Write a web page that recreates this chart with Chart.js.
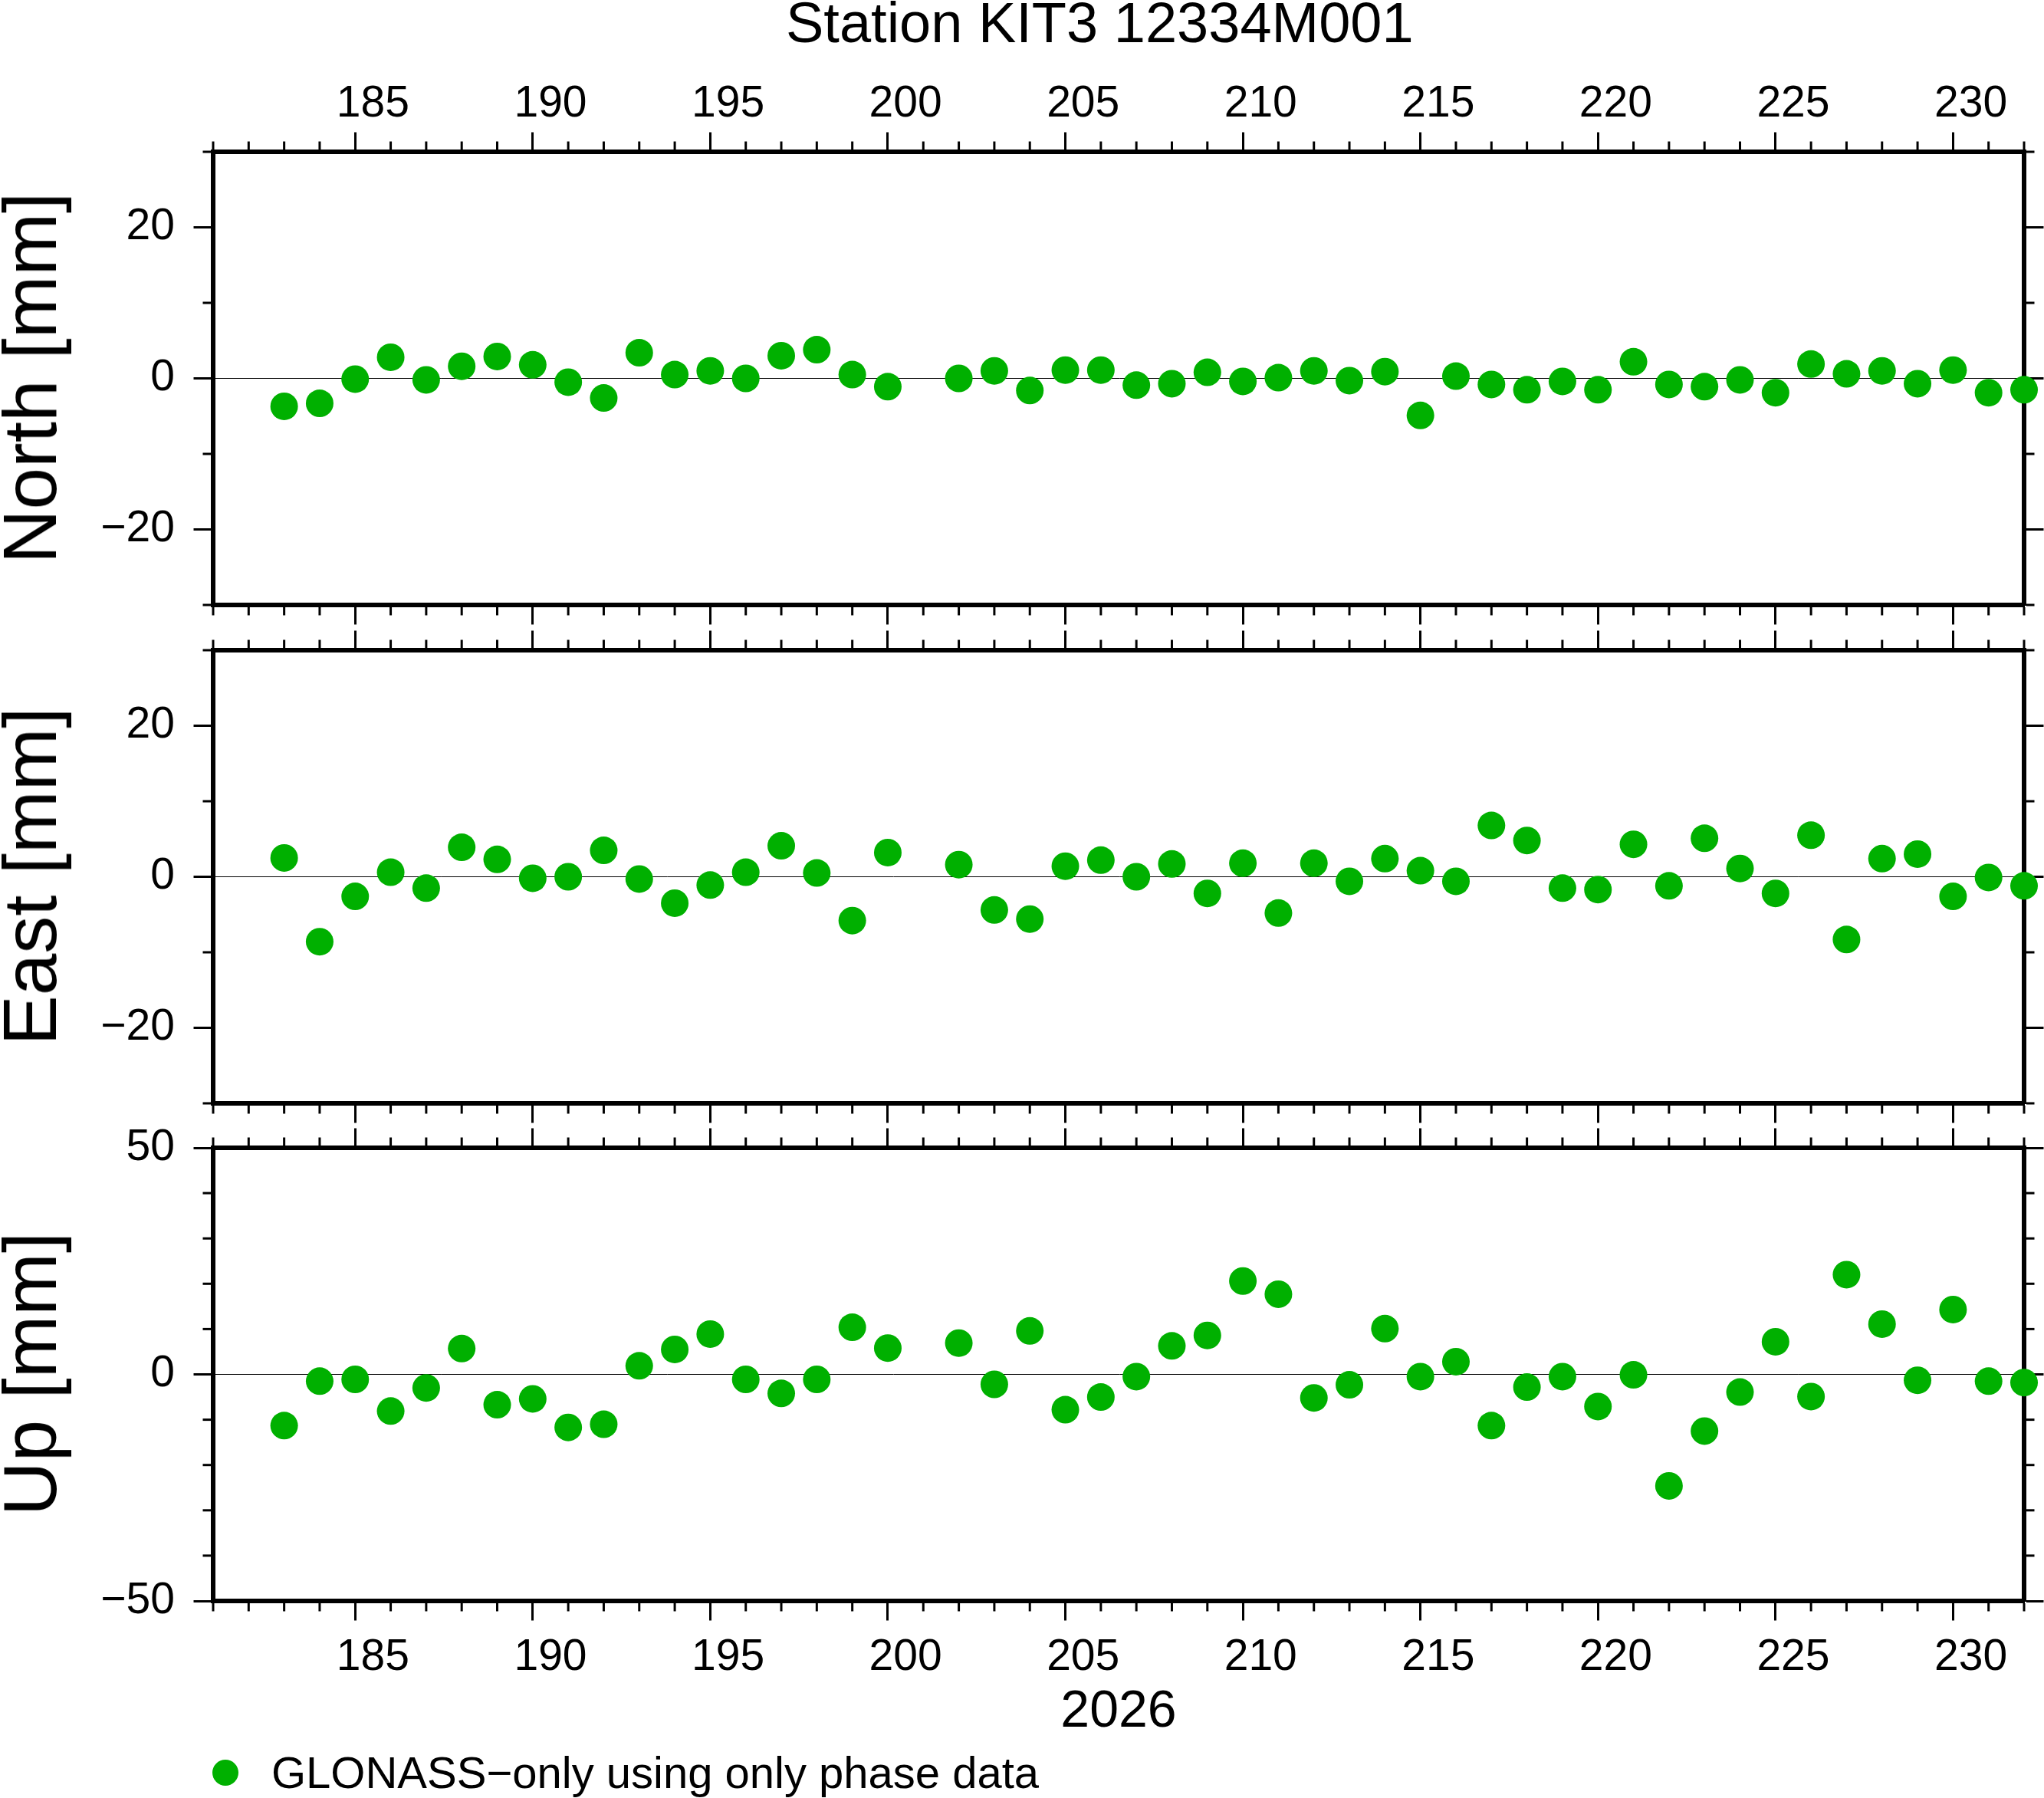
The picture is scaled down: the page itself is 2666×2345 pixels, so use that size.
<!DOCTYPE html>
<html>
<head>
<meta charset="utf-8">
<script src="https://cdn.jsdelivr.net/npm/chart.js@4.4.1/dist/chart.umd.min.js"></script>
<style>
  html, body { margin: 0; padding: 0; background: #fff; }
  #page { position: relative; width: 2666px; height: 2345px; overflow: hidden; font-family: "Liberation Sans", Helvetica, Arial, sans-serif; color: #000; }
  canvas { position: absolute; left: 0; }
  .txt { position: absolute; white-space: nowrap; }
  .ylab { position: absolute; white-space: nowrap; font-size: 98px; line-height: 98px; left: -10px; transform-origin: 0 0; transform: rotate(-90deg) translateX(-50%); }
</style>
</head>
<body>
<div id="page">
  <div class="txt" style="left:1025px; top:-7px; font-size:74px; line-height:74px;">Station KIT3 12334M001</div>

  <canvas id="north" width="2666" height="818" style="top:0px; width:2666px; height:818px;"></canvas>
  <canvas id="east" width="2666" height="650" style="top:818px; width:2666px; height:650px;"></canvas>
  <canvas id="up" width="2666" height="742" style="top:1468px; width:2666px; height:742px;"></canvas>

  <div class="ylab" style="top:493px;">North [mm]</div>
  <div class="ylab" style="top:1143px;">East [mm]</div>
  <div class="ylab" style="top:1792px;">Up [mm]</div>

  <div class="txt" style="left:1459px; top:2194px; font-size:68px; line-height:68px; transform:translateX(-50%);">2026</div>

  <div class="txt" style="left:277px; top:2295px; width:34px; height:34px; border-radius:50%; background:#00b000;"></div>
  <div class="txt" style="left:354px; top:2283px; font-size:58px; line-height:58px;">GLONASS−only using only phase data</div>
</div>

<script>
// day of year 2026 (day 201 has no solution)
const days = [183, 184, 185, 186, 187, 188, 189, 190, 191, 192, 193, 194, 195, 196, 197, 198, 199, 200,
              202, 203, 204, 205, 206, 207, 208, 209, 210, 211, 212, 213, 214, 215, 216, 217, 218, 219,
              220, 221, 222, 223, 224, 225, 226, 227, 228, 229, 230, 231, 232];

// residuals in mm
const north = [-3.7, -3.3, -0.1, 2.8, -0.2, 1.6, 2.9, 1.8, -0.5, -2.6, 3.4, 0.5, 1.0, 0.0, 3.0, 3.8, 0.5, -1.1,
               0.0, 1.0, -1.6, 1.1, 1.1, -0.9, -0.7, 0.8, -0.4, 0.1, 1.0, -0.3, 0.9, -4.9, 0.3, -0.8, -1.5, -0.4,
               -1.5, 2.2, -0.8, -1.1, -0.2, -1.9, 1.9, 0.6, 1.0, -0.7, 1.1, -1.9, -1.5];
const east = [2.5, -8.6, -2.6, 0.6, -1.5, 3.9, 2.3, -0.2, 0.0, 3.5, -0.3, -3.5, -1.1, 0.6, 4.1, 0.5, -5.8, 3.2,
              1.6, -4.4, -5.6, 1.4, 2.2, 0.0, 1.7, -2.2, 1.8, -4.8, 1.8, -0.6, 2.4, 0.8, -0.6, 6.8, 4.8, -1.5,
              -1.7, 4.3, -1.2, 5.1, 1.1, -2.2, 5.5, -8.3, 2.4, 3.0, -2.6, -0.1, -1.2];
const up = [-11.3, -1.5, -1.1, -8.1, -3.0, 5.7, -6.7, -5.4, -11.7, -11.0, 1.9, 5.5, 8.9, -1.1, -4.2, -1.1, 10.4, 5.8,
            6.9, -2.2, 9.6, -7.8, -5.0, -0.5, 6.3, 8.6, 20.6, 17.7, -5.2, -2.3, 10.1, -0.5, 2.8, -11.3, -2.8, -0.5,
            -7.1, -0.1, -24.6, -12.5, -3.9, 7.2, -4.9, 22.0, 11.1, -1.3, 14.3, -1.5, -1.8];

// labelled ticks
const dayTicks = [185, 190, 195, 200, 205, 210, 215, 220, 225, 230];
const mmTicks = [-20, 0, 20];
const upTicks = [-50, 0, 50];

const dayMin = 181;
const dayMax = 232;
const dayMinor = 1;
const mmMinor = 10;

const dotColor = '#00b000';
const tickFont = { family: '"Liberation Sans", Helvetica, Arial, sans-serif', size: 57, lineHeight: 1.2 };
const frameWidth = 6;
const majorLen = 25.5;
const minorLen = 13.5;
const chartLeft = 278;
const chartRight = 2640;
// day labels sit in the middle of their day, half a day right of the tick
const halfDay = (chartRight - chartLeft) / (dayMax - dayMin) / 2;

// small ticks between the labelled ones, drawn on every side of the frame
const minorTicks = {
  id: 'minorTicks',
  afterDraw(chart, args, opts) {
    const ctx = chart.ctx;
    ctx.save();
    ctx.strokeStyle = '#000';
    ctx.lineWidth = 3;
    for (const scale of Object.values(chart.scales)) {
      const horiz = scale.isHorizontal();
      const step = horiz ? opts.xStep : opts.yStep;
      const majors = scale.ticks.map((t) => t.value);
      for (let v = scale.min; v <= scale.max + 1e-6; v += step) {
        if (majors.some((m) => Math.abs(m - v) < 1e-6)) continue;
        const p = scale.getPixelForValue(v);
        ctx.beginPath();
        if (scale.position === 'top') {
          ctx.moveTo(p, scale.bottom - frameWidth / 2); ctx.lineTo(p, scale.bottom - minorLen);
        } else if (scale.position === 'bottom') {
          ctx.moveTo(p, scale.top + frameWidth / 2); ctx.lineTo(p, scale.top + minorLen);
        } else if (scale.position === 'left') {
          ctx.moveTo(scale.right - frameWidth / 2, p); ctx.lineTo(scale.right - minorLen, p);
        } else {
          ctx.moveTo(scale.left + frameWidth / 2, p); ctx.lineTo(scale.left + minorLen, p);
        }
        ctx.stroke();
      }
    }
    ctx.restore();
  }
};

// fixed axis sizes, no extra padding from label overhang
function fixSize(s, w, h) {
  if (w !== null) s.width = w;
  if (h !== null) s.height = h;
  s.paddingTop = 0;
  s.paddingBottom = 0;
  s.paddingLeft = 0;
  s.paddingRight = 0;
}

function xAxis(position, showLabels, size, pad) {
  return {
    type: 'linear',
    position: position,
    min: dayMin,
    max: dayMax,
    afterBuildTicks: (s) => { s.ticks = dayTicks.map((v) => ({ value: v })); },
    afterFit: (s) => fixSize(s, null, size),
    border: { color: '#000', width: frameWidth },
    grid: { drawOnChartArea: false, tickLength: majorLen, tickWidth: 3, tickColor: '#000' },
    ticks: {
      display: showLabels, autoSkip: false, maxRotation: 0, padding: pad,
      labelOffset: halfDay,
      color: '#000', font: tickFont,
      callback: (v) => String(v)
    }
  };
}

function yAxis(position, min, max, tickValues, zeroLine) {
  return {
    type: 'linear',
    position: position,
    min: min,
    max: max,
    afterBuildTicks: (s) => { s.ticks = tickValues.map((v) => ({ value: v })); },
    afterFit: (s) => fixSize(s, position === 'left' ? chartLeft : 2666 - chartRight, null),
    border: { color: '#000', width: frameWidth },
    grid: {
      drawOnChartArea: zeroLine,
      color: (c) => (c.tick && c.tick.value === 0 ? '#000' : 'rgba(0,0,0,0)'),
      lineWidth: 1,
      tickLength: majorLen, tickWidth: 3, tickColor: '#000'
    },
    ticks: {
      display: position === 'left', autoSkip: false, padding: 24.5,
      color: '#000', font: tickFont,
      callback: (v) => String(v).replace('-', '\u2212')
    }
  };
}

function makePanel(id, values, yMin, yMax, tickValues, topLabels, bottomLabels, topH, bottomH) {
  const points = days.map((d, i) => ({ x: d, y: values[i] }));
  return new Chart(document.getElementById(id), {
    type: 'scatter',
    data: {
      datasets: [{
        data: points,
        backgroundColor: dotColor,
        borderWidth: 0,
        pointRadius: 18,
        pointHoverRadius: 18,
        clip: false,
        xAxisID: 'x',
        yAxisID: 'y'
      }]
    },
    options: {
      responsive: false,
      animation: false,
      events: [],
      layout: { padding: 0, autoPadding: false },
      plugins: {
        legend: { display: false },
        tooltip: { enabled: false },
        minorTicks: { xStep: dayMinor, yStep: mmMinor }
      },
      scales: {
        x: xAxis('bottom', bottomLabels, bottomH, 15),
        xTop: xAxis('top', topLabels, topH, 2.5),
        y: yAxis('left', yMin, yMax, tickValues, true),
        yRight: yAxis('right', yMin, yMax, tickValues, false)
      }
    },
    plugins: [minorTicks]
  });
}

makePanel('north', north, -30, 30, mmTicks, true, false, 198, 29);
makePanel('east', east, -30, 30, mmTicks, false, false, 30, 29);
makePanel('up', up, -50, 50, upTicks, false, true, 29, 122);
</script>
</body>
</html>
